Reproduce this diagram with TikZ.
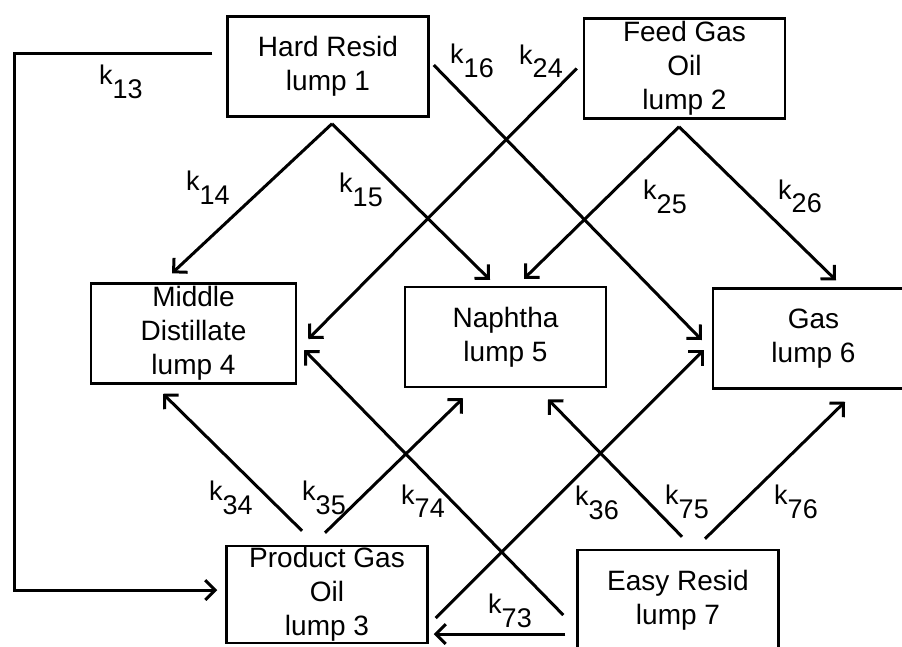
\documentclass[tikz,border=0pt]{standalone}
\usepackage{fontspec}
\setmainfont{Liberation Sans}
\usetikzlibrary{arrows.meta}
\newcommand{\krate}[1]{k\raisebox{-0.5em}{#1}}
\tikzset{% one px of the scan = 1pt
  lump/.style ={draw=black, line width=2.5pt, minimum width=201pt, minimum height=100pt,
    inner sep=0pt, align=center, font=\fontsize{28}{34}\selectfont},
  rate/.style ={inner sep=0pt, font=\fontsize{27}{30}\selectfont},
  flow/.style ={line width=3pt, -{Straight Barb[angle=90:14pt, line width=3pt]}},
}

\begin{document}
\begin{tikzpicture}[x=1pt, y=-1pt]
  \useasboundingbox (0,0) rectangle (902,646);
  \node[lump] (l1) at (328, 66.5) {Hard Resid\\lump 1};
  \node[lump] (l2) at (684.5, 68.5) {Feed Gas\\Oil\\lump 2};
  \node[lump, minimum width=205pt] (l4) at (193.5, 333.5) {Middle\\Distillate\\lump 4};
  \node[lump] (l5) at (505.5, 337) {Naphtha\\lump 5};
  \node[lump] (l6) at (813.5, 338.5) {Gas\\lump 6};
  \node[lump, minimum height=97pt] (l3) at (327, 594.5) {Product Gas\\Oil\\lump 3};
  \node[lump] (l7) at (678, 600) {Easy Resid\\lump 7};
  % rate constants
  \node[rate] (k13) at (121, 82) {\krate{13}};
  \node[rate] (k14) at (208, 187.5) {\krate{14}};
  \node[rate] (k15) at (361, 190) {\krate{15}};
  \node[rate] (k16) at (472, 61) {\krate{16}};
  \node[rate] (k24) at (541, 61) {\krate{24}};
  \node[rate] (k25) at (665, 197) {\krate{25}};
  \node[rate] (k26) at (800, 196.5) {\krate{26}};
  \node[rate] (k34) at (231, 498) {\krate{34}};
  \node[rate] (k35) at (324, 498) {\krate{35}};
  \node[rate] (k74) at (423, 501) {\krate{74}};
  \node[rate] (k36) at (597, 503) {\krate{36}};
  \node[rate] (k75) at (687, 502) {\krate{75}};
  \node[rate] (k76) at (796, 502) {\krate{76}};
  \node[rate] (k73) at (510, 611) {\krate{73}};
  % hard resid
  \draw[flow] ([shift={(-14,-13.5)}]l1.west) -- ++(-198,0) |- ([shift={(-8,-4.5)}]l3.west);
  \draw[flow] ([shift={(4,6)}]l1.south) -- ([shift={(-21.5,-9)}]l4.north);
  \draw[flow] ([shift={(4,6)}]l1.south) -- ([shift={(-15.5,-6)}]l5.north);
  \draw[flow] ([shift={(4,-1.5)}]l1.east) -- ([shift={(-10,1.5)}]l6.west);
  % feed gas oil
  \draw[flow] ([shift={(-6,0)}]l2.west) -- ([shift={(11,5.5)}]l4.east);
  \draw[flow] ([shift={(-5.5,7)}]l2.south) -- ([shift={(18.5,-7)}]l5.north);
  \draw[flow] ([shift={(-5.5,7)}]l2.south) -- ([shift={(22.5,-7)}]l6.north);
  % product gas oil
  \draw[flow] ([shift={(-25,-14)}]l3.north) -- ([shift={(-30.5,9)}]l4.south);
  \draw[flow] ([shift={(-2,-12)}]l3.north) -- ([shift={(-42.5,10)}]l5.south);
  \draw[flow] ([shift={(7,23.5)}]l3.east) -- ([shift={(-8,11.5)}]l6.west);
  % easy resid
  \draw[flow] ([shift={(-11,34)}]l7.west) -- ([shift={(5,39.5)}]l3.east);
  \draw[flow] ([shift={(-13,15)}]l7.west) -- ([shift={(7,16.5)}]l4.east);
  \draw[flow] ([shift={(4,-12)}]l7.north) -- ([shift={(42.5,11)}]l5.south);
  \draw[flow] ([shift={(27,-10)}]l7.north) -- ([shift={(31.5,12)}]l6.south);
\end{tikzpicture}
\end{document}
